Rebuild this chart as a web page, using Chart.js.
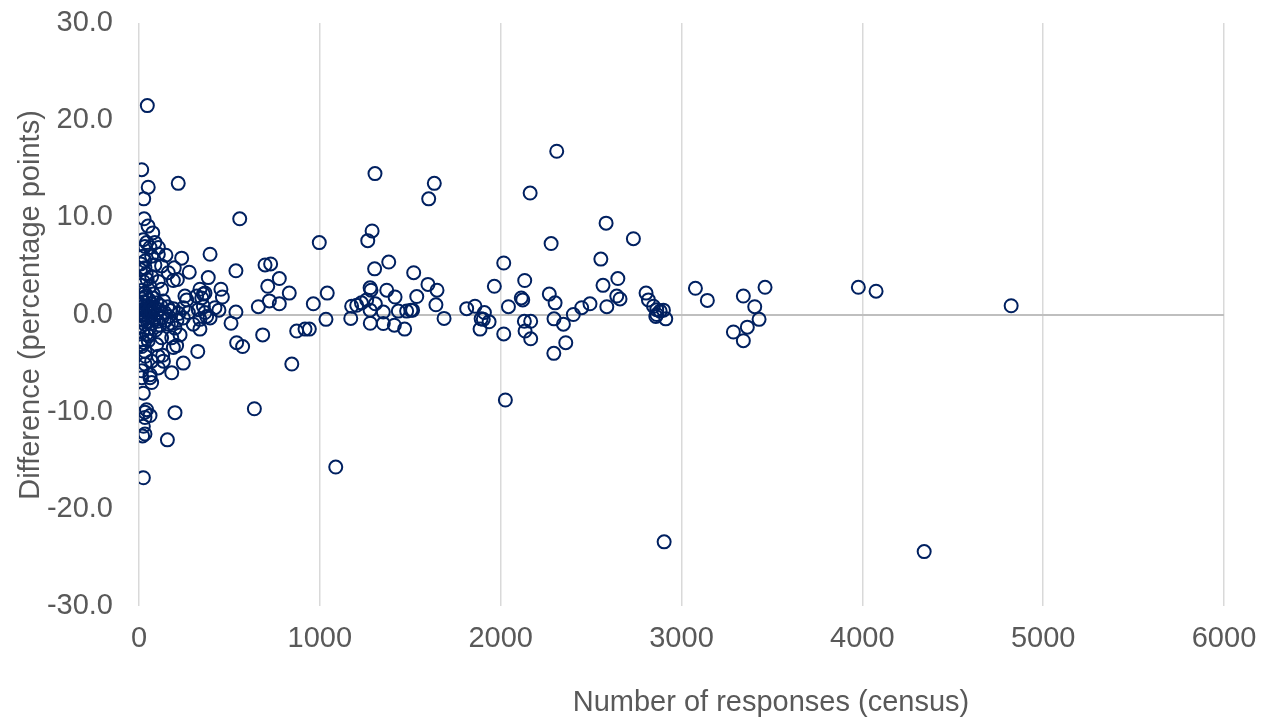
<!DOCTYPE html>
<html>
<head>
<meta charset="utf-8">
<script src="https://cdn.jsdelivr.net/npm/chart.js@4"></script>
<style>
html,body{margin:0;padding:0;background:#fff;}
#wrap{width:1269px;height:722px;}
</style>
</head>
<body>
<div id="wrap"><canvas id="c" width="1269" height="722"></canvas></div>
<script>
// Number of responses (census) for each area
const censusResponses = [
  46,15,51,217,26,28,50,76,107,149,236,195,278,212,190,264,245,208,190,131,
  70,24,42,61,33,24,33,20,157,24,199,181,245,24,42,33,61,88,24,70,
  107,33,33,88,125,162,70,24,107,33,79,125,254,245,273,199,162,227,181,107,
  135,70,33,15,61,107,15,33,6,51,98,125,61,33,
  5,8,10,12,14,16,18,20,22,25,27,30,32,35,38,40,43,45,48,52,
  55,58,62,65,68,72,75,80,84,88,92,96,100,105,110,115,120,128,135,142,
  150,158,165,172,180,190,210,220,8,12,18,10,15,40,55,60,35,45,20,28,
  557,393,536,697,728,383,776,453,712,831,964,660,721,776,356,319,442,536,374,393,
  337,337,509,684,540,573,325,845,638,918,942,872,997,461,420,328,365,300,365,347,
  356,337,
  1305,1633,1602,2163,2310,1289,1265,1303,1381,1519,1598,1648,1642,1687,1536,1370,1416,1278,1283,1307,
  1259,1204,1176,1230,1278,1351,1434,1480,1504,1513,1171,1279,1351,1412,1469,1034,1041,1088,
  1812,1858,1910,1892,1936,1886,1904,1965,2017,2043,2017,2026,2133,2114,2122,2131,2166,2135,2166,2279,
  2269,2301,2295,2347,2294,2360,2402,2448,2494,2583,2554,2566,2648,2642,2660,2587,2734,2804,2817,2845,
  2863,2882,2900,2863,2913,2858,3077,3143,3342,3462,3405,3429,3364,3287,3342,3978,4076,4823,2904,4342
];
// Difference (percentage points) for each area
const differencePct = [
  21.5,14.9,13.1,13.5,11.9,9.85,9.1,8.4,6.9,6.1,5.8,4.8,4.35,3.6,3.5,1.5,-0.35,-3.2,-3.4,-4.2,
  -7.0,-8.1,-9.8,-10.4,-10.05,-11.5,-12.3,-12.5,-12.9,-16.8,-10.1,-6.0,-5.0,7.7,7.4,7.0,6.9,7.4,6.0,6.0,
  6.2,5.5,4.8,5.1,5.0,4.3,3.9,3.4,3.4,2.2,2.1,2.6,1.9,0.7,0.2,-1.4,-1.0,-2.1,-2.4,-4.3,
  -4.8,-4.8,-5.1,-5.8,-6.2,-5.5,-6.5,-3.8,-3.1,-2.7,-3.1,-2.4,-6.5,-10.6,
  0.2,-0.5,1.0,-1.2,0.5,-0.1,1.6,-1.8,0.8,-0.6,1.3,0.0,-1.0,0.4,1.9,-0.3,-2.0,0.9,-0.8,0.3,
  1.5,-1.4,0.6,-0.2,1.1,-0.9,0.2,1.7,-0.5,0.7,-1.6,0.1,1.2,-0.7,0.5,-1.1,0.9,-0.3,1.4,0.2,
  -0.6,0.8,-0.2,0.4,-0.9,0.6,-0.6,0.1,4.6,3.0,-2.6,5.2,-3.3,4.2,-2.2,2.9,-4.3,3.6,2.5,-2.9,
  9.85,6.2,4.5,5.1,5.2,3.8,3.7,2.6,2.9,2.2,1.1,0.8,1.4,1.1,2.1,1.9,0.45,0.25,-0.2,-0.35,
  -0.5,-1.5,-0.9,-2.1,-2.9,-3.3,-3.8,-5.1,-9.7,-1.5,-1.5,-1.7,7.4,1.8,0.7,0.5,0.2,-1.0,2.2,1.7,
  0.85,2.6,
  14.5,13.5,11.9,12.5,16.8,8.6,7.6,4.7,5.4,4.3,3.1,2.5,1.0,-0.4,1.85,2.5,1.8,2.75,2.5,1.1,
  1.5,0.95,0.85,1.2,0.45,0.25,0.35,0.35,0.45,0.45,-0.4,-0.9,-0.93,-1.1,-1.5,-0.5,2.2,-15.7,
  0.6,0.85,0.2,-0.45,-0.75,-1.5,-0.5,2.9,5.3,0.8,-2.0,-8.8,3.5,1.7,1.5,-0.7,-0.7,-1.7,-2.5,7.3,
  2.1,1.2,-0.45,-1.0,-4.0,-2.9,0.0,0.7,1.1,9.4,5.7,3.0,3.7,1.9,1.6,0.8,7.8,2.2,1.5,0.85,
  0.5,0.35,0.45,0.0,-0.45,-0.2,2.7,1.45,1.9,2.8,0.8,-0.5,-1.3,-1.8,-2.7,2.8,2.4,0.9,-23.4,-24.4
];
const yTicks = [-30, -20, -10, 0, 10, 20, 30];
const xTicks = [0, 1000, 2000, 3000, 4000, 5000, 6000];
const xTitle = 'Number of responses (census)';
const yTitle = 'Difference (percentage points)';

const points = censusResponses.map((x, i) => ({x: x, y: differencePct[i]}));
const labelColor = '#595959';
const fontFamily = '"Liberation Sans", Arial, sans-serif';

// Axis titles placed as in the original (x title sits right of the plot centre)
const axisTitles = {
  id: 'axisTitles',
  afterDraw(chart) {
    const ctx = chart.ctx;
    ctx.save();
    ctx.fillStyle = labelColor;
    ctx.font = '29px ' + fontFamily;
    ctx.textAlign = 'center';
    ctx.textBaseline = 'middle';
    ctx.fillText(xTitle, 771, 703);
    ctx.translate(31, 305);
    ctx.rotate(-Math.PI / 2);
    ctx.fillText(yTitle, 0, 0);
    ctx.restore();
  }
};

new Chart(document.getElementById('c'), {
  type: 'scatter',
  data: {
    datasets: [{
      data: points,
      pointStyle: 'circle',
      pointRadius: 6.5,
      pointHoverRadius: 6.5,
      borderWidth: 2,
      borderColor: '#002060',
      backgroundColor: 'rgba(0,0,0,0)'
    }]
  },
  plugins: [axisTitles],
  options: {
    responsive: false,
    animation: false,
    events: [],
    layout: {padding: {left: 0, right: 45, top: 23, bottom: 0}},
    plugins: {legend: {display: false}, tooltip: {enabled: false}},
    scales: {
      x: {
        type: 'linear',
        min: xTicks[0], max: xTicks[xTicks.length - 1],
        afterBuildTicks: (s) => { s.ticks = xTicks.map(v => ({value: v})); },
        afterFit: (s) => { s.height = 116; s.paddingLeft = 0; s.paddingRight = 0; },
        border: {display: false},
        grid: {color: '#d9d9d9', lineWidth: 1.5, drawTicks: false},
        ticks: {color: labelColor, padding: 16, font: {family: fontFamily, size: 29},
                callback: (v) => String(v)},
        title: {display: false}
      },
      y: {
        type: 'linear',
        min: yTicks[0], max: yTicks[yTicks.length - 1],
        afterBuildTicks: (s) => { s.ticks = yTicks.map(v => ({value: v})); },
        afterFit: (s) => { s.width = 139; s.paddingTop = 0; s.paddingBottom = 0; },
        border: {display: false},
        grid: {
          drawTicks: false,
          color: (ctx) => (ctx.tick && ctx.tick.value === 0) ? '#bfbfbf' : 'rgba(0,0,0,0)',
          lineWidth: 2
        },
        ticks: {color: labelColor, padding: 26, font: {family: fontFamily, size: 29},
                callback: (v) => Number(v).toFixed(1)},
        title: {display: false}
      }
    }
  }
});
</script>
</body>
</html>
